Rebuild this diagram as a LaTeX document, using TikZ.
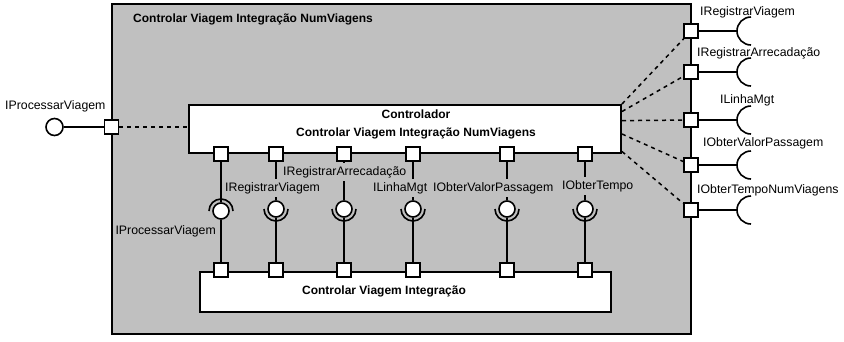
\documentclass[tikz,border=0pt]{standalone}
\usepackage{fontspec}
\setmainfont{Liberation Sans}
\usetikzlibrary{calc}
\definecolor{pkgfill}{RGB}{192,192,192}

\begin{document}
\begin{tikzpicture}[x=1pt, y=-1pt,
  box/.style={draw, line width=2pt, fill=white, inner sep=0pt},
  boldtext/.style={font=\bfseries\fontsize{12}{18}\selectfont, inner sep=0pt, align=center},
  port/.style={draw, line width=1.6pt, fill=white, minimum size=14pt, inner sep=0pt},
  ball/.style={circle, draw, line width=1.6pt, fill=white, minimum size=16pt, inner sep=0pt},
  wire/.style={line width=1.7pt},
  sock/.style={line width=1.6pt},
  link/.style={line width=1.5pt, dash pattern=on 4pt off 4pt},
  lbl/.style={font=\fontsize{12.3}{14}\selectfont, inner sep=0pt, anchor=west},
  ilbl/.style={lbl, fill=pkgfill, inner xsep=1pt, inner ysep=3pt}]

\useasboundingbox (0,0) rectangle (844,341);

% enclosing component
\node[draw, line width=2pt, fill=pkgfill, minimum width=579pt, minimum height=330pt,
      anchor=north west, inner sep=0pt] (pkg) at (111,3) {};
\node[boldtext, anchor=west] (title) at (133,19) {Controlar Viagem Integração NumViagens};

% inner parts
\node[box, minimum width=432pt, minimum height=48pt, anchor=north west] (ctrl) at (188,104) {};
\node[boldtext] (ctrltext) at (416,124) {Controlador\\Controlar Viagem Integração NumViagens};
\node[box, minimum width=411pt, minimum height=40pt, anchor=north west] (impl) at (199,271) {};
\node[boldtext] (impltext) at (384,291) {Controlar Viagem Integração};

% delegation to the outer ports
\node[port] (lp) at (111.5,127) {};
\node[ball, minimum size=17pt] (lb) at (54.5,127) {};
\draw[wire] (lb.east) -- (lp.west);
\draw[link] (lp.east) -- (lp.east -| ctrl.west);
\node[lbl] (lplbl) at (5,106) {IProcessarViagem};

\foreach \i/\y/\f in {1/31/0, 2/72/0.15, 3/120/0.333, 4/165/0.6, 5/210/0.95} {
  \node[port] (rp\i) at (691,\y) {};
  \coordinate (rs\i) at (737,\y);
  \draw[wire] (rp\i.east) -- (rs\i);
  \draw[sock] (rs\i) ++(14pt,14pt) arc[start angle=90, end angle=270, radius=14pt];
  \draw[link] ($(ctrl.north east)!\f!(ctrl.south east)$) -- (rp\i);
}
\node[lbl] (rl1) at (700,12) {IRegistrarViagem};
\node[lbl] (rl2) at (697,53) {IRegistrarArrecadação};
\node[lbl] (rl3) at (720,100) {ILinhaMgt};
\node[lbl] (rl4) at (703,143) {IObterValorPassagem};
\node[lbl] (rl5) at (697,190) {IObterTempoNumViagens};

% assembly connectors between the parts
\foreach \i/\x/\by in {1/221/211, 2/276/209, 3/344/209, 4/413/209, 5/507/209, 6/585/209} {
  \node[port] (up\i) at (\x,154) {};
  \node[port] (lo\i) at (\x,270) {};
  \node[ball] (b\i) at (\x,\by) {};
  \draw[wire] (up\i.south) -- (b\i.north);
  \draw[wire] (b\i.south) -- (lo\i.north);
}
\draw[sock] (b1) ++(-12pt,0pt) arc[start angle=180, end angle=0, radius=12pt];
\foreach \i in {2,...,6} {
  \draw[sock] (b\i) ++(-12pt,0pt) arc[start angle=180, end angle=360, radius=12pt];
}

\node[lbl, anchor=east] (il1) at (216,231) {IProcessarViagem};
\node[ilbl] (il2) at (224,188) {IRegistrarViagem};
\node[ilbl] (il3) at (282,172) {IRegistrarArrecadação};
\node[ilbl] (il4) at (372,188) {ILinhaMgt};
\node[ilbl] (il5) at (432,188) {IObterValorPassagem};
\node[ilbl] (il6) at (561,186) {IObterTempo};
\end{tikzpicture}
\end{document}
